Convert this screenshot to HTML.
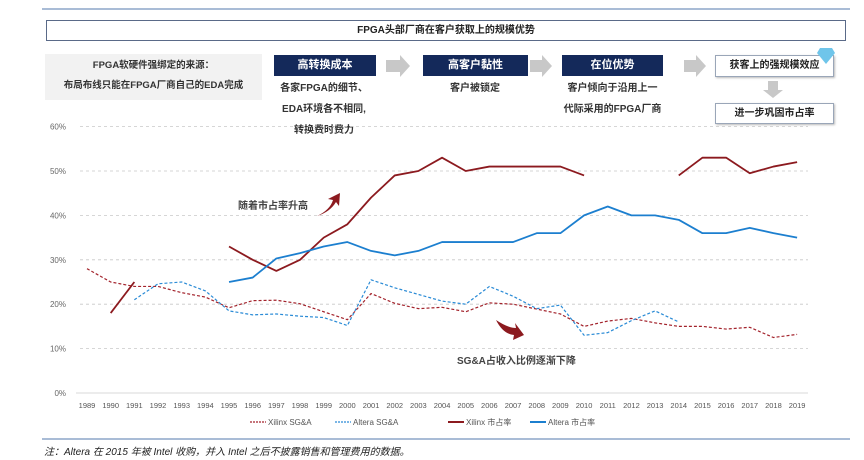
<!DOCTYPE html>
<html><head><meta charset="utf-8">
<style>
body{margin:0;width:864px;height:460px;background:#fff;font-family:"Liberation Sans","Noto Sans CJK SC",sans-serif;overflow:hidden;position:relative}
.abs{position:absolute}
.navy{background:#14295a;color:#fff;font-size:11px;font-weight:bold;text-align:center;line-height:21px}
.ob{border:1px solid #9aa6b8;background:#fff;font-size:10px;font-weight:bold;text-align:center;color:#222;box-shadow:1px 1px 2px #bbb}
.desc{font-size:10px;font-weight:bold;color:#333;text-align:center;line-height:21px}
</style></head><body>
<div class="abs" style="left:42px;top:8px;width:808px;height:2px;background:#a9bcd6"></div>
<div class="abs ob" style="left:46px;top:20px;width:798px;height:19px;line-height:19px;box-shadow:none;border-color:#5a6a88">FPGA头部厂商在客户获取上的规模优势</div>
<div class="abs" style="left:45px;top:54px;width:217px;height:44px;background:#f2f2f2;font-size:9.5px;font-weight:bold;color:#333;text-align:center;line-height:20px;padding-top:2px">FPGA软硬件强绑定的来源：<br>布局布线只能在FPGA厂商自己的EDA完成</div>
<div class="abs navy" style="left:274px;top:55px;width:102px;height:21px">高转换成本</div>
<div class="abs navy" style="left:423px;top:55px;width:105px;height:21px">高客户黏性</div>
<div class="abs navy" style="left:562px;top:55px;width:101px;height:21px">在位优势</div>
<div class="abs desc" style="left:264px;top:78px;width:120px">各家FPGA的细节、<br>EDA环境各不相同,<br>转换费时费力</div>
<div class="abs desc" style="left:420px;top:78px;width:110px">客户被锁定</div>
<div class="abs desc" style="left:550px;top:78px;width:125px">客户倾向于沿用上一<br>代际采用的FPGA厂商</div>
<svg class="abs" style="left:0;top:0" width="864" height="130">
<g fill="#c8c8c8"><polygon points="386,60 400,60 400,55 410,66 400,77 400,72 386,72"/><polygon points="530,60 542,60 542,55 552,66 542,77 542,72 530,72"/><polygon points="684,60 696,60 696,55 706,66 696,77 696,72 684,72"/><polygon points="768,81 778,81 778,90 783,90 773,98 763,90 768,90"/></g>
</svg>
<div class="abs ob" style="left:715px;top:55px;width:117px;height:20px;line-height:20px">获客上的强规模效应</div>
<div class="abs ob" style="left:715px;top:103px;width:117px;height:19px;line-height:19px">进一步巩固市占率</div>
<svg class="abs" style="left:0;top:0" width="864" height="130"><polygon points="820,48 832,48 835,53 826,64 817,53" fill="#6fc5ea"/></svg>
<svg class="abs" style="left:0;top:0" width="864" height="460" id="chart"></svg>
<div class="abs" style="left:42px;top:438px;width:808px;height:2px;background:#a9bcd6"></div>
<div class="abs" style="left:44px;top:443px;font-size:10px;font-style:italic;color:#222">注：Altera 在 2015 年被 Intel 收购，并入 Intel 之后不披露销售和管理费用的数据。</div>
<script>
const years=[1989,1990,1991,1992,1993,1994,1995,1996,1997,1998,1999,2000,2001,2002,2003,2004,2005,2006,2007,2008,2009,2010,2011,2012,2013,2014,2015,2016,2017,2018,2019];
const xilinxSGA=[28,25,24,24,22.6,21.6,19.2,20.8,20.9,20.1,18.3,16.5,22.4,20.2,19,19.3,18.3,20.3,20,18.9,17.8,15,16.2,16.8,15.8,15,15,14.4,14.8,12.5,13.2];
const alteraSGA=[null,null,21,24.6,25,23,18.5,17.6,17.8,17.3,17,15.2,25.5,23.7,22.2,20.7,20,24,21.8,19,19.8,13,13.6,16.3,18.5,16,null,null,null,null,null];
const xilinxShare=[null,18,25,null,null,null,33,30,27.5,30,35,38,44,49,50,53,50,51,51,51,51,49,null,null,null,49,53,53,49.5,51,52];
const alteraShare=[null,null,null,null,null,null,25,26,30.3,31.5,33,34,32,31,32,34,34,34,34,36,36,40,42,40,40,39,36,36,37.2,36,35];
const yTicks=[0,10,20,30,40,50,60];
const NS="http://www.w3.org/2000/svg";
const svg=document.getElementById('chart');
const X=i=>87+i*23.67;
const Y=v=>393-v*4.44;
function mk(t,a){const e=document.createElementNS(NS,t);for(const k in a)e.setAttribute(k,a[k]);svg.appendChild(e);return e;}
yTicks.forEach(v=>{
  if(v>0){const g=mk('line',{x1:80,x2:808,y1:Y(v),y2:Y(v),stroke:'#c8c8c8','stroke-dasharray':'3,3','stroke-width':0.8});
  
  }
  const t=mk('text',{x:66,y:Y(v)+3,'font-size':8,fill:'#666','text-anchor':'end'});t.textContent=v+'%';
  
  
});
const ax=mk('line',{x1:76,x2:808,y1:393,y2:393,stroke:'#d9d9d9'});


years.forEach((y,i)=>{const t=mk('text',{x:X(i),y:408,'font-size':7.5,fill:'#555','text-anchor':'middle'});t.textContent=y;

});
function series(arr,color,dash,w,name){
  let segs=[],cur=[];
  arr.forEach((v,i)=>{if(v==null){if(cur.length)segs.push(cur);cur=[];}else cur.push(X(i)+','+Y(v));});
  if(cur.length)segs.push(cur);
  segs.forEach((s,k)=>{const p=mk('polyline',{points:s.join(' '),fill:'none',stroke:color,'stroke-width':w,'stroke-dasharray':dash||'none','stroke-linejoin':'round'});
  
  });
}
series(xilinxSGA,'#a3232c','3,2',1.2,'xilinx-sga');
series(alteraSGA,'#2a8bd6','3,2',1.2,'altera-sga');
series(xilinxShare,'#8c1a1f','',1.8,'xilinx-share');
series(alteraShare,'#1c7fcf','',1.8,'altera-share');
const leg=[['Xilinx SG&A','#a3232c','2,1',250],['Altera SG&A','#2a8bd6','2,1',335],['Xilinx 市占率','#8c1a1f','',448],['Altera 市占率','#1c7fcf','',530]];
leg.forEach(l=>{const ln=mk('line',{x1:l[3],x2:l[3]+16,y1:422,y2:422,stroke:l[1],'stroke-width':l[2]?1.2:2,'stroke-dasharray':l[2]||'none'});


const t=mk('text',{x:l[3]+18,y:425,'font-size':8,fill:'#555'});t.textContent=l[0];

});
const a1=mk('text',{x:238,y:209,'font-size':10,'font-weight':'bold',fill:'#444'});a1.textContent='随着市占率升高';


const ar1=mk('path',{d:'M317,216 Q330,210 333,200 L328,199 L340,193 L339,206 L336,202 Q330,212 317,216 Z',fill:'#8c1a1f'});


const a2=mk('text',{x:457,y:364,'font-size':10,'font-weight':'bold',fill:'#444'});a2.textContent='SG&A占收入比例逐渐下降';


const ar2=mk('path',{d:'M496,320 Q508,328 516,328 L515,323 L524,335 L513,340 L514,335 Q503,334 496,320 Z',fill:'#8c1a1f'});


</script>
</body></html>
